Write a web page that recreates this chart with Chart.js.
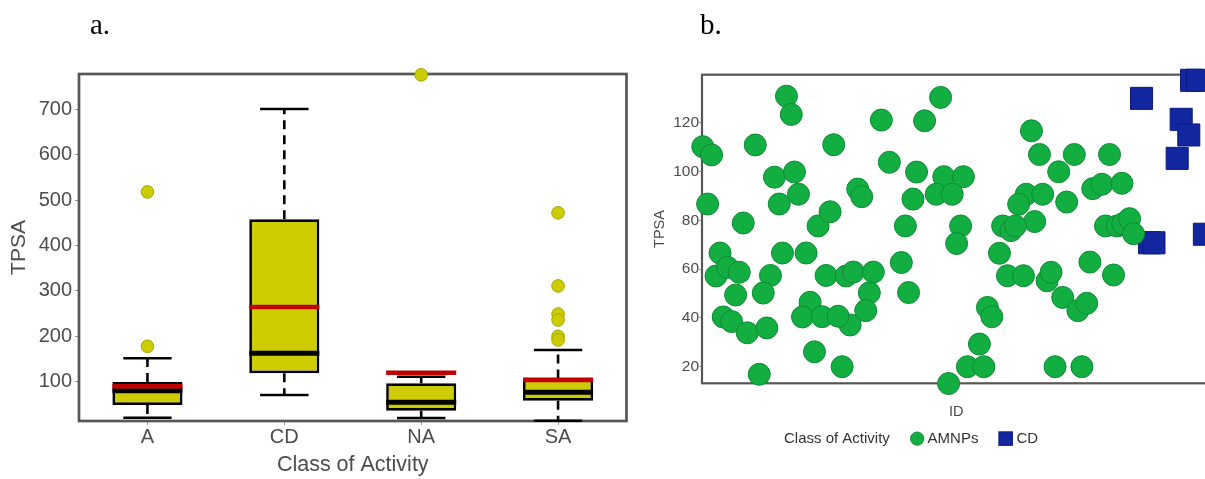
<!DOCTYPE html>
<html>
<head>
<meta charset="utf-8">
<script src="https://cdn.jsdelivr.net/npm/chart.js@4.4.1/dist/chart.umd.min.js"></script>
<style>
  html, body { margin: 0; padding: 0; background: #fff; overflow: hidden; width: 1205px; height: 479px; }
  .wrap { position: absolute; top: 0; }
  #wrapA { left: 0; width: 640px; height: 479px; }
  #wrapB { left: 640px; width: 587px; height: 479px; }
  .panel-tag { position: absolute; top: 10px; font-family: 'Liberation Serif', 'Times New Roman', serif; font-size: 29px; line-height: 1; color: #000; z-index: 2; }
</style>
</head>
<body>
<div class="panel-tag" style="left:90px">a.</div>
<div class="panel-tag" style="left:700px">b.</div>
<div class="wrap" id="wrapA"><canvas id="boxChart" width="640" height="479"></canvas></div>
<div class="wrap" id="wrapB"><canvas id="scatterChart" width="587" height="479"></canvas></div>

<script>
// ---------- Panel a: TPSA by class of activity (box plot) ----------
const categories   = ['A', 'CD', 'NA', 'SA'];
const q1Values     = [48.7, 118.5, 36.1, 58.1];
const q3Values     = [99.3, 457.7, 96.5, 107];
const medianValues = [80, 162.6, 54.6, 76.7];
const meanValues   = [90, 264.5, 119.8, 104];
const whiskerLow   = [20.7, 70.7, 20, 14];
const whiskerHigh  = [151.5, 700.7, 111, 169.8];
const outlierClass = ['A', 'A', 'NA', 'SA', 'SA', 'SA', 'SA', 'SA', 'SA'];
const outlierTPSA  = [518, 178, 776, 472, 311, 249, 236, 200, 192];
const boxTicks     = [100, 200, 300, 400, 500, 600, 700];

// ---------- Panel b: TPSA by compound ID ----------
const amnpId = [0.2, 2.4, 1.4, 10.3, 13.3, 21.1, 22.3, 18.1, 23.1, 19.3,
  24.1, 4.5, 3.5, 6.4, 9.3, 8.4, 5.3, 7.4, 11.3, 16.2,
  17.1, 15.3, 20.1, 14.3, 26, 27, 25.1, 30, 28.1, 29,
  32, 31, 32.9, 36, 37.8, 42.8, 41.8, 40.9, 37, 34,
  35, 38.9, 39.9, 44.8, 46.8, 53.6, 52.7, 50.8, 49.8, 51.6,
  55.6, 59.6, 60.4, 65.3, 58.5, 62.5, 64.6, 63.6, 61.6, 82.3,
  84.3, 93, 89.1, 91.1, 81, 85.1, 79.1, 83.1, 75.1, 77.2,
  78.3, 74.3, 76.3, 80.3, 86.2, 87.2, 90.1, 93.9, 96.1, 96.9,
  71.3, 72.4, 69.3, 66.3, 70.4, 88.2, 94.9, 101.8, 97.6, 99.9,
  104.9, 100.8, 103.7, 105.1, 106.8, 107.8, 102.8];
const amnpTPSA = [110.2, 106.8, 86.7, 78.9, 110.9, 130.9, 123.4, 97.7, 99.8, 86.7,
  90.7, 66.6, 57.2, 60.7, 58.7, 49.4, 40.4, 38.5, 33.9, 35.9,
  57.4, 50.2, 66.6, 16.9, 66.6, 46.4, 40.4, 40.5, 26.1, 77.7,
  83.5, 57.4, 111, 57.2, 58.8, 58.8, 50.3, 43, 37.1, 40.7,
  20, 92.8, 89.7, 121.1, 103.8, 99.8, 88.7, 77.7, 62.7, 50.4,
  120.8, 130.4, 97.9, 97.9, 90.7, 90.7, 77.7, 70.5, 13.1, 116.7,
  107, 107, 99.9, 87.5, 90.7, 90.7, 86.6, 79.5, 77.7, 75.8,
  77.7, 66.5, 57.3, 57.3, 55.2, 58.7, 48.4, 43, 46, 62.9,
  44.3, 40.5, 29.3, 20, 20, 20, 20, 107, 93, 94.8,
  95.2, 77.7, 77.7, 78.6, 80.7, 74.5, 57.6];
const cdId   = [109.8, 119.7, 121.6, 118.7, 111.8, 112.9, 122.3, 123.8, 125.5];
const cdTPSA = [130, 121.4, 115, 105.4, 70.8, 70.8, 137.4, 137.4, 74.3];
const scatterTicks = [20, 40, 60, 80, 100, 120];

Chart.defaults.font.family = "'Liberation Sans', Arial, Helvetica, sans-serif";
Chart.defaults.color = '#4D4D4D';

const BOX_FILL = '#CCCC00';
const FRAME = '#575757';
const TEXT = '#4D4D4D';

// Panel frame drawn under the marks so points on the edge sit on top of it
function drawFrame(chart, width) {
  const {ctx, chartArea: a} = chart;
  ctx.save();
  ctx.strokeStyle = FRAME;
  ctx.lineWidth = width;
  ctx.strokeRect(a.left, a.top, a.right - a.left, a.bottom - a.top);
  ctx.restore();
}

// Whiskers, caps, medians and means for the box plot
const boxParts = {
  id: 'boxParts',
  beforeDatasetsDraw(chart) {
    drawFrame(chart, 2.7);
    const {ctx, scales: {y}} = chart;
    const bars = chart.getDatasetMeta(0).data;
    ctx.save();
    ctx.strokeStyle = '#000';
    ctx.lineWidth = 2.6;
    ctx.lineCap = 'butt';
    categories.forEach((c, i) => {
      const bar = bars[i];
      const cx = bar.x;
      const capHalf = bar.width * 0.345;
      const yQ1 = y.getPixelForValue(q1Values[i]);
      const yQ3 = y.getPixelForValue(q3Values[i]);
      const yLo = y.getPixelForValue(whiskerLow[i]);
      const yHi = y.getPixelForValue(whiskerHigh[i]);
      ctx.setLineDash([9, 6]);
      ctx.beginPath();
      ctx.moveTo(cx, yQ3); ctx.lineTo(cx, yHi);
      ctx.moveTo(cx, yQ1); ctx.lineTo(cx, yLo);
      ctx.stroke();
      ctx.setLineDash([]);
      ctx.beginPath();
      ctx.moveTo(cx - capHalf, yHi); ctx.lineTo(cx + capHalf, yHi);
      ctx.moveTo(cx - capHalf, yLo); ctx.lineTo(cx + capHalf, yLo);
      ctx.stroke();
    });
    ctx.restore();
  },
  afterDatasetDraw(chart, args) {
    if (args.index !== 0) return;
    const {ctx, scales: {y}} = chart;
    const bars = chart.getDatasetMeta(0).data;
    ctx.save();
    ctx.lineCap = 'butt';
    categories.forEach((c, i) => {
      const bar = bars[i];
      const half = bar.width / 2;
      const yMed = y.getPixelForValue(medianValues[i]);
      const yMean = y.getPixelForValue(meanValues[i]);
      ctx.strokeStyle = '#000';
      ctx.lineWidth = 5;
      ctx.beginPath();
      ctx.moveTo(bar.x - half, yMed); ctx.lineTo(bar.x + half, yMed);
      ctx.stroke();
      ctx.strokeStyle = '#C00000';
      ctx.lineWidth = 4.6;
      ctx.beginPath();
      ctx.moveTo(bar.x - half, yMean); ctx.lineTo(bar.x + half, yMean);
      ctx.stroke();
    });
    ctx.restore();
  }
};

new Chart(document.getElementById('boxChart'), {
  data: {
    labels: categories,
    datasets: [
      {
        type: 'bar',
        label: 'IQR',
        data: categories.map((c, i) => [q1Values[i], q3Values[i]]),
        backgroundColor: BOX_FILL,
        borderColor: '#000',
        borderWidth: 2.7,
        borderSkipped: false,
        barPercentage: 0.512,
        categoryPercentage: 1,
        order: 2
      },
      {
        type: 'line',
        label: 'Outliers',
        data: outlierClass.map((c, i) => ({x: c, y: outlierTPSA[i]})),
        showLine: false,
        pointRadius: 6.3,
        pointBackgroundColor: BOX_FILL,
        pointBorderColor: '#A3A300',
        pointBorderWidth: 1,
        clip: false,
        order: 1
      }
    ]
  },
  options: {
    responsive: false,
    animation: false,
    events: [],
    layout: {padding: {left: 0, top: 74, right: 13.5, bottom: 0}},
    plugins: {legend: {display: false}, tooltip: {enabled: false}},
    scales: {
      x: {
        type: 'category',
        offset: true,
        grid: {display: true, offset: false, drawOnChartArea: false, tickLength: 4, color: '#9A9A9A'},
        border: {display: false},
        ticks: {font: {size: 20}, color: TEXT, padding: 0},
        title: {display: true, text: 'Class of Activity', font: {size: 21.5}, color: TEXT, padding: {top: 0, bottom: 1}},
        afterFit(s) { s.height = 58; s.paddingLeft = 0; s.paddingRight = 0; }
      },
      y: {
        type: 'linear',
        min: 13.4,
        max: 777.8,
        afterBuildTicks(s) { s.ticks = boxTicks.map(v => ({value: v})); },
        grid: {drawOnChartArea: false, tickLength: 4, color: '#9A9A9A'},
        border: {display: false},
        ticks: {font: {size: 20}, color: TEXT, padding: 3},
        title: {display: true, text: 'TPSA', font: {size: 21}, color: TEXT, padding: {top: 7, bottom: 0}},
        afterFit(s) { s.width = 79; }
      }
    }
  },
  plugins: [boxParts]
});

// Legend row with its title, drawn in a single line below the axis title
const classLegend = {
  id: 'classLegend',
  beforeDatasetsDraw(chart) { drawFrame(chart, 2.2); },
  afterDraw(chart) {
    const {ctx} = chart;
    const ds = chart.data.datasets;
    const yMid = 438.6;
    ctx.save();
    ctx.font = "15px 'Liberation Sans', Arial, sans-serif";
    ctx.fillStyle = '#333';
    ctx.textBaseline = 'middle';
    let x = 144;
    const title = 'Class of Activity';
    ctx.fillText(title, x, yMid);
    x += ctx.measureText(title).width + 20.5;
    // circle key
    ctx.beginPath();
    ctx.arc(x + 6.8, yMid, 6.6, 0, Math.PI * 2);
    ctx.fillStyle = ds[0].backgroundColor;
    ctx.fill();
    ctx.lineWidth = 1;
    ctx.strokeStyle = ds[0].borderColor;
    ctx.stroke();
    x += 13.7 + 3.5;
    ctx.fillStyle = '#333';
    ctx.fillText(ds[0].label, x, yMid);
    x += ctx.measureText(ds[0].label).width + 20.5;
    // square key
    ctx.fillStyle = ds[1].backgroundColor;
    ctx.fillRect(x, yMid - 6.75, 13.5, 13.5);
    ctx.strokeStyle = ds[1].borderColor;
    ctx.strokeRect(x, yMid - 6.75, 13.5, 13.5);
    x += 13.5 + 4;
    ctx.fillStyle = '#333';
    ctx.fillText(ds[1].label, x, yMid);
    ctx.restore();
  }
};

new Chart(document.getElementById('scatterChart'), {
  type: 'scatter',
  data: {
    datasets: [
      {
        label: 'AMNPs',
        data: amnpId.map((v, i) => ({x: v, y: amnpTPSA[i]})),
        pointStyle: 'circle',
        radius: 11,
        backgroundColor: '#13AE42',
        borderColor: '#0E8A34',
        borderWidth: 1,
        clip: false
      },
      {
        label: 'CD',
        data: cdId.map((v, i) => ({x: v, y: cdTPSA[i]})),
        pointStyle: 'rect',
        radius: 15.6,
        backgroundColor: '#1226A0',
        borderColor: '#0B1A80',
        borderWidth: 1,
        clip: false
      }
    ]
  },
  options: {
    responsive: false,
    animation: false,
    events: [],
    layout: {padding: {left: 0, top: 74.7, right: 5, bottom: 0}},
    plugins: {legend: {display: false}, tooltip: {enabled: false}},
    scales: {
      x: {
        type: 'linear',
        min: 0,
        max: 127,
        ticks: {display: false},
        grid: {display: false},
        border: {display: false},
        title: {display: true, text: 'ID', font: {size: 14.5}, color: TEXT, padding: {top: 0, bottom: 58}},
        afterFit(s) { s.height = 95.7; s.paddingLeft = 0; s.paddingRight = 0; }
      },
      y: {
        type: 'linear',
        min: 13.2,
        max: 139.7,
        afterBuildTicks(s) { s.ticks = scatterTicks.map(v => ({value: v})); },
        grid: {drawOnChartArea: false, tickLength: 3, color: '#9A9A9A'},
        border: {display: false},
        ticks: {font: {size: 15.5}, color: TEXT, padding: 0},
        title: {display: true, text: 'TPSA', font: {size: 14.5}, color: TEXT, padding: {top: 11.3, bottom: 0}},
        afterFit(s) { s.width = 62; }
      }
    }
  },
  plugins: [classLegend]
});
</script>
</body>
</html>
